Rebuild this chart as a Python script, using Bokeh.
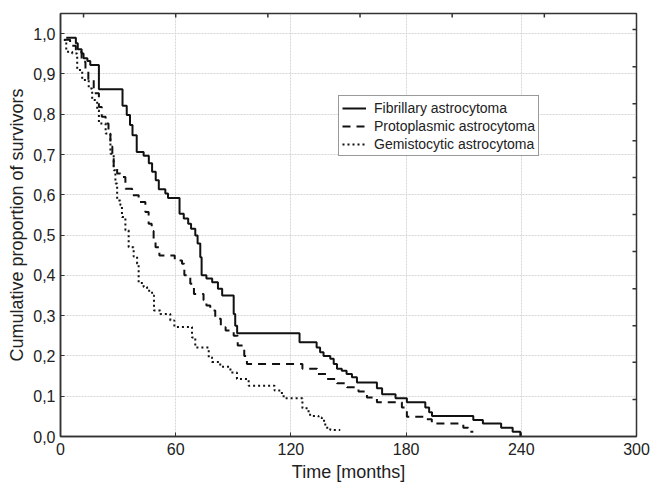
import math
from bokeh.plotting import figure
from bokeh.models import Range1d, FixedTicker, Legend, LegendItem
from bokeh.embed import file_html
from bokeh.resources import INLINE

# ---- data ----
fib_t = [3, 8, 9, 11, 12, 14, 15.5, 20, 32.3, 34.5, 36.2, 37.5, 39.7, 43.3, 46, 47.7, 49.6, 51.2,
         54.6, 56, 62, 64.2, 66.5, 68, 70.2, 71.4, 72.8, 73.5, 76, 79, 82, 84.2, 90.2, 91, 92,
         124.5, 133.4, 135.2, 137, 140.5, 142.3, 144, 146.5, 149, 151.8, 154.4, 164.8, 167.5,
         174.5, 180.4, 190, 192, 193.5, 215, 220, 229.5, 235.5, 239.5, 240]
fib_s = [0.99, 0.976, 0.961, 0.951, 0.939, 0.932, 0.922, 0.862, 0.821, 0.798, 0.773, 0.748, 0.706,
         0.697, 0.678, 0.657, 0.636, 0.614, 0.603, 0.592, 0.553, 0.541, 0.528, 0.516, 0.499, 0.479,
         0.445, 0.4, 0.392, 0.383, 0.367, 0.35, 0.304, 0.275, 0.256, 0.234, 0.221, 0.209, 0.2,
         0.193, 0.18, 0.168, 0.163, 0.155, 0.147, 0.134, 0.12, 0.105, 0.095, 0.085, 0.072, 0.06,
         0.051, 0.041, 0.032, 0.022, 0.012, 0.0, 0.0]

pro_t = [2, 5, 8, 11, 13, 14.5, 17.3, 20, 21.5, 23.5, 25, 26, 27, 27.7, 29.5, 31.2, 33.8, 37.3,
         40.7, 44.2, 45.9, 47.5, 48.5, 49.5, 51.5, 59.5, 63.3, 64.5, 67.6, 69.5, 74.5, 76, 78,
         80.6, 83.5, 86, 90.2, 92.3, 95.7, 97.1, 126, 133.6, 138.8, 144, 149.2, 155.2, 159.6,
         164.8, 177.8, 180.4, 190, 193.4, 209.8, 212.4, 215]
pro_s = [0.985, 0.97, 0.955, 0.93, 0.91, 0.885, 0.852, 0.818, 0.794, 0.777, 0.75, 0.72, 0.69,
         0.669, 0.653, 0.644, 0.615, 0.599, 0.582, 0.557, 0.528, 0.51, 0.49, 0.47, 0.449, 0.437,
         0.429, 0.4, 0.379, 0.354, 0.338, 0.325, 0.313, 0.292, 0.271, 0.263, 0.25, 0.226, 0.2,
         0.18, 0.168, 0.155, 0.143, 0.132, 0.122, 0.112, 0.097, 0.085, 0.072, 0.049, 0.043,
         0.032, 0.022, 0.012, 0.012]

gem_t = [1.7, 3, 6.1, 8.7, 11.3, 14.7, 16.5, 19.1, 20, 23.5, 26, 27.7, 28.6, 29.5, 31.2, 32,
         33.8, 35.5, 38.1, 39.9, 40.7, 43.3, 45.1, 47.7, 48.7, 52, 57.2, 59.3, 68.5, 70.2, 77.2,
         78.9, 83.2, 88.5, 91.9, 98, 111.5, 115.3, 116.2, 126, 129.2, 130, 134.4, 136.1, 137.9,
         140.5, 145.7]
gem_s = [0.984, 0.955, 0.951, 0.91, 0.885, 0.864, 0.835, 0.81, 0.777, 0.752, 0.702, 0.661,
         0.628, 0.586, 0.574, 0.545, 0.512, 0.47, 0.447, 0.429, 0.381, 0.371, 0.362, 0.35,
         0.313, 0.304, 0.288, 0.272, 0.246, 0.221, 0.197, 0.185, 0.173, 0.159, 0.143, 0.126,
         0.114, 0.105, 0.095, 0.07, 0.058, 0.051, 0.047, 0.039, 0.022, 0.016, 0.016]

series_names = ["Fibrillary astrocytoma", "Protoplasmic astrocytoma", "Gemistocytic astrocytoma"]

x_ticks = [0, 60, 120, 180, 240, 300]
y_ticks = [0.0, 0.1, 0.2, 0.3, 0.4, 0.5, 0.6, 0.7, 0.8, 0.9, 1.0]
y_tick_labels = ["0,0", "0,1", "0,2", "0,3", "0,4", "0,5", "0,6", "0,7", "0,8", "0,9", "1,0"]
top_ticks = [12, 60, 108, 156, 204, 252]
right_ticks = [0.092, 0.184, 0.275, 0.367, 0.459, 0.551, 0.643, 0.734, 0.826, 0.918, 1.010]

X_MAX = 300
Y_MAX = 1.05

FONT = "Liberation Sans"
TXT = "#222222"
AX = "#333333"

p = figure(width=651, height=485, x_range=Range1d(0, X_MAX), y_range=Range1d(0, Y_MAX),
           output_backend="svg", toolbar_location=None,
           min_border_left=60, min_border_right=15, min_border_top=13, min_border_bottom=49)

p.outline_line_color = AX
p.outline_line_width = 1.5
p.background_fill_color = "white"
p.border_fill_color = "white"

xa = p.xaxis[0]
xa.ticker = FixedTicker(ticks=x_ticks)
xa.axis_label = "Time [months]"
ya = p.yaxis[0]
ya.ticker = FixedTicker(ticks=y_ticks)
ya.major_label_overrides = {t: l for t, l in zip(y_ticks, y_tick_labels)}
ya.axis_label = "Cumulative proportion of survivors"
for ax in (xa, ya):
    ax.axis_line_color = AX
    ax.axis_line_width = 1.5
    ax.major_tick_in = 4
    ax.major_tick_out = 0
    ax.major_tick_line_color = AX
    ax.minor_tick_line_color = None
    ax.major_label_text_font = FONT
    ax.major_label_text_font_size = "16px"
    ax.major_label_text_color = TXT
    ax.axis_label_text_font = FONT
    ax.axis_label_text_font_size = "18px"
    ax.axis_label_text_font_style = "normal"
    ax.axis_label_text_color = TXT
xa.major_label_standoff = 6
xa.axis_label_standoff = 4
ya.major_label_standoff = 5
ya.axis_label_standoff = 3

p.xgrid.ticker = FixedTicker(ticks=x_ticks)
p.ygrid.ticker = FixedTicker(ticks=y_ticks)
for g in (p.xgrid, p.ygrid):
    g.grid_line_color = "#d6d6d6"
    g.grid_line_dash = "2 1"
    g.grid_line_width = 1

# unlabeled inner tick marks on the top and right frame edges (as in the original)
p.scatter(x=top_ticks, y=[Y_MAX] * len(top_ticks), marker="dash", angle=math.pi / 2,
          size=8, line_color=AX, line_width=1.5)
p.scatter(x=[X_MAX] * len(right_ticks), y=right_ticks, marker="dash",
          size=8, line_color=AX, line_width=1.5)

r1 = p.step(fib_t, fib_s, mode="after", line_color="#111111", line_width=2)
r2 = p.step(pro_t, pro_s, mode="after", line_color="#111111", line_width=2, line_dash="8 6")
r3 = p.step(gem_t, gem_s, mode="after", line_color="#111111", line_width=2, line_dash="2 3")

legend = Legend(items=[LegendItem(label=series_names[0], renderers=[r1]),
                       LegendItem(label=series_names[1], renderers=[r2]),
                       LegendItem(label=series_names[2], renderers=[r3])],
                location=(278, 280))
legend.label_text_font = FONT
legend.label_text_font_size = "14px"
legend.label_text_color = TXT
legend.glyph_width = 24
legend.glyph_height = 16
legend.label_height = 17
legend.label_standoff = 8
legend.spacing = 1
legend.padding = 3
legend.margin = 0
legend.border_line_color = AX
legend.border_line_width = 1.5
legend.background_fill_alpha = 1
p.add_layout(legend, "center")

open("out.html", "w").write(file_html(p, INLINE))
